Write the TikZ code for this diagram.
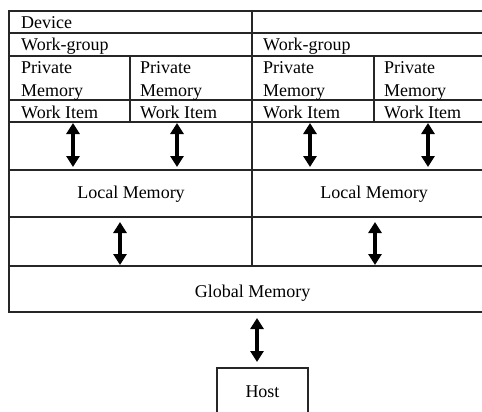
\documentclass[tikz,border=0pt]{standalone}
\usepackage{fontspec}
\setmainfont{Liberation Serif}
\usetikzlibrary{arrows.meta}
\begin{document}
\begin{tikzpicture}[x=1pt,y=-1pt,
  grid/.style={line width=1.3pt, draw=black!85},
  lbl/.style={anchor=base west, inner sep=0pt, font=\fontsize{18}{22}\selectfont},
  clbl/.style={anchor=base, inner sep=0pt, font=\fontsize{18}{22}\selectfont},
  link/.style={line width=3.2pt, {Triangle[width=13pt,length=11pt]}-{Triangle[width=13pt,length=11pt]}}]
\clip (0,0) rectangle (482,412);
\fill[white] (0,0) rectangle (482,412);

% device frame and row separators
\draw[grid] (500,11) -- (9,11) -- (9,312) -- (500,312);
\foreach \y in {33,56,100,122,170,217,266}
  \draw[grid] (9,\y) -- (500,\y);
% split between the two work-groups
\draw[grid] (252,11) -- (252,266);
% split between work items inside each work-group
\draw[grid] (130,56) -- (130,122);
\draw[grid] (374,56) -- (374,122);
% host box
\draw[grid] (217,420) -- (217,368) -- (308,368) -- (308,420);

% labels
\node[lbl] (dev) at (21,29) {Device};
\node[lbl] (wg1) at (21,51) {Work-group};
\node[lbl] (wg2) at (263,51) {Work-group};
\node[lbl] (pm1a) at (21,74) {Private};
\node[lbl] (pm1b) at (21,96) {Memory};
\node[lbl] (pm2a) at (140,74) {Private};
\node[lbl] (pm2b) at (140,96) {Memory};
\node[lbl] (pm3a) at (263,74) {Private};
\node[lbl] (pm3b) at (263,96) {Memory};
\node[lbl] (pm4a) at (384,74) {Private};
\node[lbl] (pm4b) at (384,96) {Memory};
\node[lbl] (wi1) at (21,118) {Work Item};
\node[lbl] (wi2) at (140,118) {Work Item};
\node[lbl] (wi3) at (263,118) {Work Item};
\node[lbl] (wi4) at (384,118) {Work Item};
\node[clbl] (lm1) at (131,198) {Local Memory};
\node[clbl] (lm2) at (374,198) {Local Memory};
\node[clbl] (gm) at (252.5,297) {Global Memory};
\node[clbl] (host) at (262.5,397) {Host};

% arrow end points
\coordinate (a1t) at (73,123);  \coordinate (a1b) at (73,167);
\coordinate (a2t) at (177,123); \coordinate (a2b) at (177,167);
\coordinate (a3t) at (310,123); \coordinate (a3b) at (310,167);
\coordinate (a4t) at (428,123); \coordinate (a4b) at (428,167);
\coordinate (b1t) at (120,222); \coordinate (b1b) at (120,265);
\coordinate (b2t) at (375,222); \coordinate (b2b) at (375,265);
\coordinate (ct) at (257,318);  \coordinate (cb) at (257,362);

% memory transfers
\draw[link] (a1t) -- (a1b);
\draw[link] (a2t) -- (a2b);
\draw[link] (a3t) -- (a3b);
\draw[link] (a4t) -- (a4b);
\draw[link] (b1t) -- (b1b);
\draw[link] (b2t) -- (b2b);
\draw[link] (ct) -- (cb);
\end{tikzpicture}
\end{document}
